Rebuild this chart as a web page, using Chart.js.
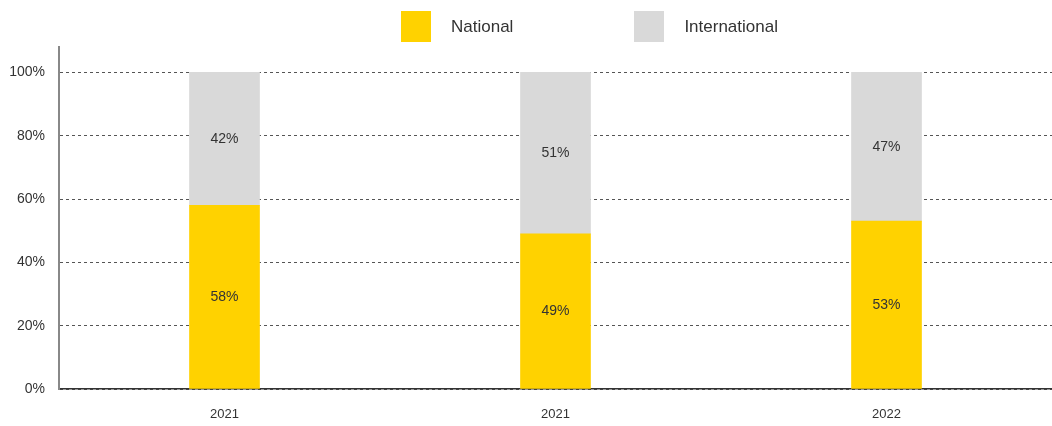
<!DOCTYPE html>
<html>
<head>
<meta charset="utf-8">
<script src="https://cdn.jsdelivr.net/npm/chart.js@4/dist/chart.umd.min.js"></script>
<style>
  html, body { margin: 0; padding: 0; background: #fff; }
  #wrap { position: relative; width: 1052px; height: 426px; font-family: 'Liberation Sans', Arial, sans-serif; }
  #legend { position: absolute; top: 11px; left: 401px; display: flex; align-items: center; color: #333; font-size: 17px; }
  .item { display: flex; align-items: center; }
  .swatch { width: 30px; height: 31px; margin-right: 20px; }
  .item + .item { margin-left: 121px; }
</style>
</head>
<body>
<div id="wrap">
  <canvas id="share-chart" width="1052" height="426"></canvas>
  <div id="legend"></div>
</div>
<script>
// ─── Data ────────────────────────────────────────
const years = ['2021', '2021', '2022'];
const nationalPct = [58, 49, 53];
const internationalPct = [42, 51, 47];
const yTicks = [0, 20, 40, 60, 80, 100];

const YELLOW = '#FFD200';
const GREY = '#D9D9D9';
const TEXT = '#333333';

// ─── HTML legend ─────────────────────────────────
const legendEl = document.getElementById('legend');
[['National', YELLOW], ['International', GREY]].forEach(([name, color]) => {
  const item = document.createElement('div');
  item.className = 'item';
  item.innerHTML = `<span class="swatch" style="background:${color}"></span><span>${name}</span>`;
  legendEl.appendChild(item);
});

// ─── Value labels centred in each segment ────────
const segmentLabels = {
  id: 'segmentLabels',
  afterDatasetsDraw(chart) {
    const { ctx } = chart;
    ctx.save();
    ctx.font = "14px 'Liberation Sans', Arial, sans-serif";
    ctx.fillStyle = TEXT;
    ctx.textAlign = 'center';
    ctx.textBaseline = 'middle';
    chart.data.datasets.forEach((ds, i) => {
      chart.getDatasetMeta(i).data.forEach((bar, j) => {
        const p = bar.getCenterPoint();
        ctx.fillText(`${ds.data[j]}%`, p.x, p.y);
      });
    });
    ctx.restore();
  },
};

// ─── Chart ───────────────────────────────────────
new Chart(document.getElementById('share-chart'), {
  type: 'bar',
  data: {
    labels: years,
    datasets: [
      { label: 'National', data: nationalPct, backgroundColor: YELLOW, barThickness: 70 },
      { label: 'International', data: internationalPct, backgroundColor: GREY, barThickness: 70 },
    ],
  },
  options: {
    responsive: false,
    animation: false,
    layout: { padding: { top: 47, right: 0, bottom: 0, left: 0 } },
    plugins: { legend: { display: false }, tooltip: { enabled: false } },
    scales: {
      x: {
        stacked: true,
        grid: { display: false, drawTicks: false },
        border: { color: '#333', width: 1.5 },
        ticks: { padding: 18, color: TEXT, font: { size: 13, family: "'Liberation Sans', Arial, sans-serif" } },
        afterFit: (axis) => { axis.height = 37; },
      },
      y: {
        stacked: true,
        min: 0,
        max: 108,
        afterBuildTicks: (axis) => { axis.ticks = yTicks.map(v => ({ value: v })); },
        grid: { color: '#555', lineWidth: 1, drawTicks: false },
        border: { color: '#888', width: 2, dash: [3, 3] },
        ticks: {
          padding: 14,
          color: TEXT,
          font: { size: 14, family: "'Liberation Sans', Arial, sans-serif" },
          callback: (v) => `${v}%`,
        },
        afterFit: (axis) => { axis.width = 59; },
      },
    },
  },
  plugins: [segmentLabels],
});
</script>
</body>
</html>
